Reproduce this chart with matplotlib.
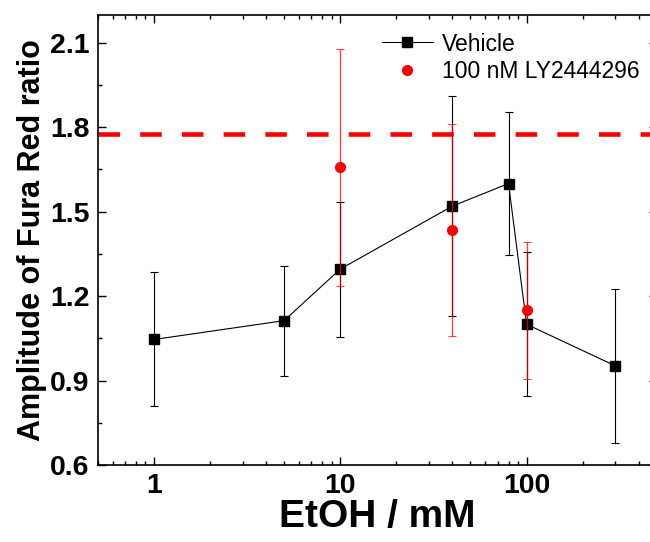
import numpy as np
import matplotlib
matplotlib.use("Agg")
import matplotlib.pyplot as plt
from matplotlib.ticker import LogLocator, MultipleLocator, FixedLocator, NullFormatter

plt.rcParams['font.family'] = ['Liberation Sans', 'DejaVu Sans']

# vehicle series
veh_x = [1, 5, 10, 40, 80, 100, 300]
veh_y = [1.046, 1.113, 1.296, 1.520, 1.600, 1.100, 0.952]
veh_err = [0.238, 0.195, 0.240, 0.390, 0.253, 0.256, 0.275]

# 100 nM LY2444296 series
ly_x = [10, 40, 100]
ly_y = [1.657, 1.435, 1.149]
ly_err = [0.420, 0.377, 0.244]

ref_level = 1.777

fig = plt.figure(figsize=(6.5, 5.42), dpi=100)
ax = fig.add_axes([0.1505, 0.142, 0.860, 0.831])

ax.axhline(ref_level, color='#ff0000', lw=3.3, dashes=(4.7, 4.4), zorder=1)

ax.errorbar(veh_x, veh_y, yerr=veh_err, fmt='none', ecolor='black',
            elinewidth=0.8, capsize=3, capthick=0.8, zorder=2)
ax.plot(veh_x, veh_y, color='black', lw=0.8, marker='s', markersize=7,
        label='Vehicle', zorder=3)

ax.errorbar(ly_x, ly_y, yerr=ly_err, fmt='none', ecolor='#ff0000', alpha=0.75,
            elinewidth=1.0, capsize=3, capthick=0.8, zorder=4)
ax.plot(ly_x, ly_y, linestyle='none', color='#ff0000', marker='o',
        markersize=7, label='100 nM LY2444296', zorder=5)

ax.set_xscale('log')
ax.set_xlim(0.5, 500)
ax.set_ylim(0.6, 2.2)

ax.xaxis.set_major_locator(FixedLocator([1, 10, 100]))
ax.set_xticklabels(['1', '10', '100'])
ax.xaxis.set_minor_locator(LogLocator(base=10, subs=np.arange(2, 10)))
ax.xaxis.set_minor_formatter(NullFormatter())
ax.yaxis.set_minor_locator(MultipleLocator(0.15))
ax.set_yticks([0.6, 0.9, 1.2, 1.5, 1.8, 2.1])
ax.set_yticklabels(['0.6', '0.9', '1.2', '1.5', '1.8', '2.1'])

ax.tick_params(which='both', direction='in', top=True, right=True, width=1.0)
ax.tick_params(which='major', length=6, labelsize=20.5, pad=6)
ax.tick_params(which='minor', length=3)
for lab in ax.get_xticklabels() + ax.get_yticklabels():
    lab.set_fontweight('bold')
for sp in ax.spines.values():
    sp.set_linewidth(1.2)

ax.set_xlabel('EtOH / mM', fontsize=28, fontweight='bold', labelpad=0)
ax.set_ylabel('Amplitude of Fura Red ratio', fontsize=22, fontweight='bold', labelpad=2)

ax.legend(loc='upper left', bbox_to_anchor=(0.588, 0.94),
          bbox_transform=fig.transFigure, frameon=False, fontsize=16.5,
          borderpad=0, borderaxespad=0, handlelength=2.2, handletextpad=0.4,
          labelspacing=0.2)

fig.savefig('out.png', dpi=100)
